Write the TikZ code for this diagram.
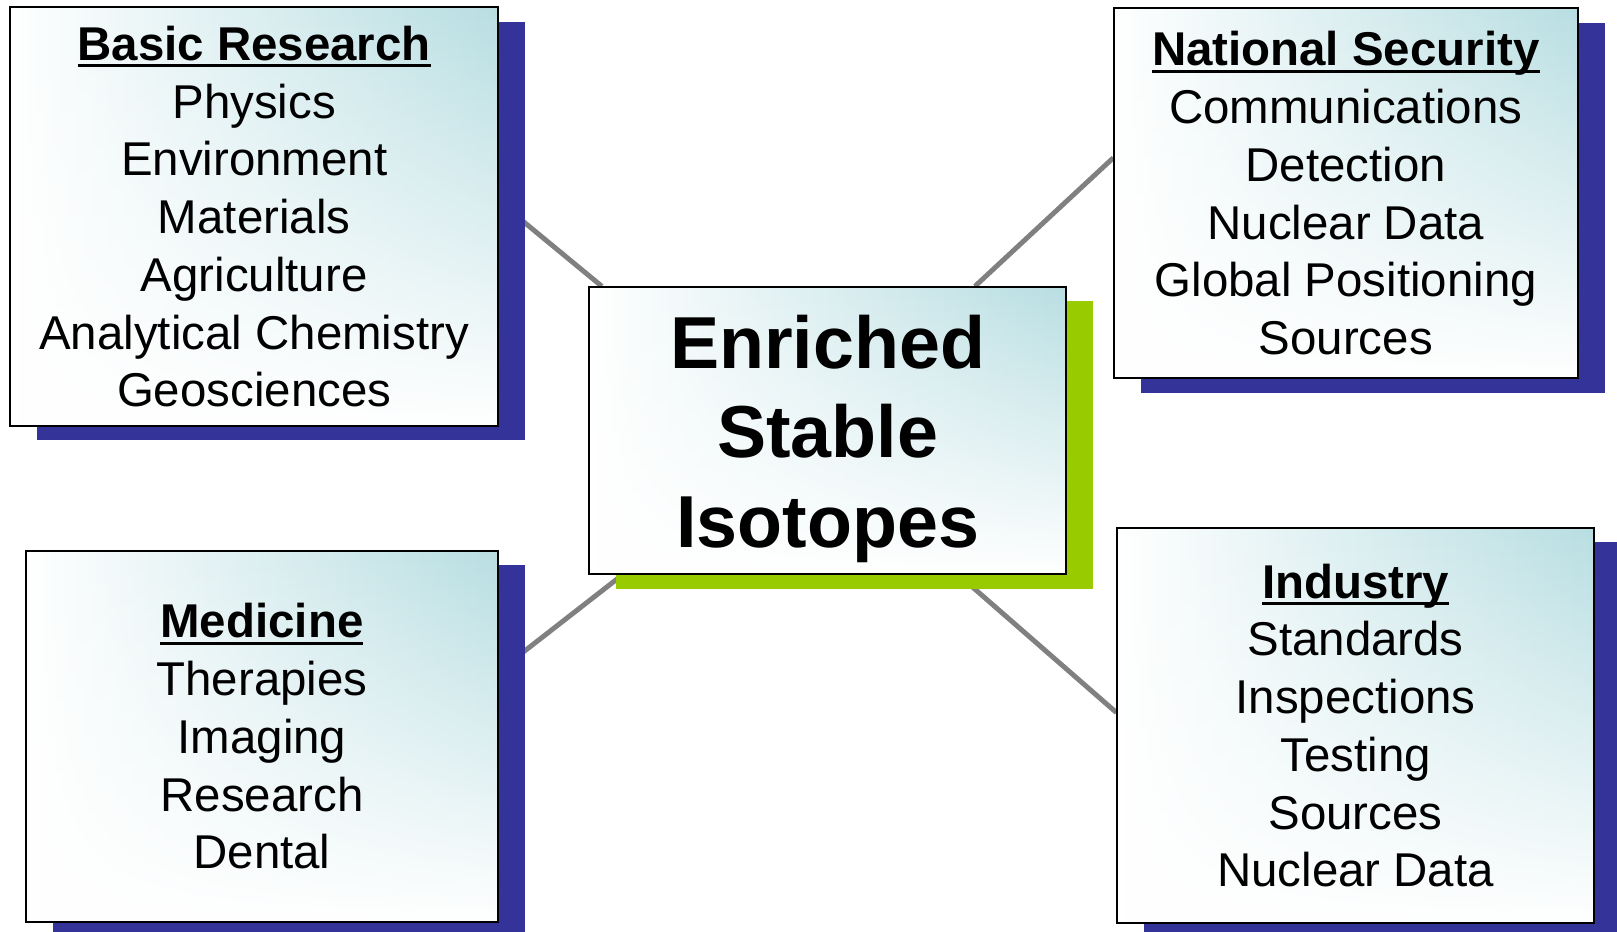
\documentclass[tikz,border=0pt]{standalone}
\usepackage{fontspec}
\setmainfont{Liberation Sans}
\usetikzlibrary{shadows,backgrounds,fadings}

\definecolor{isoteal}{RGB}{184,222,226}
\definecolor{isoblue}{RGB}{51,51,153}
\definecolor{isogreen}{RGB}{153,204,0}
\definecolor{linkgray}{RGB}{128,128,128}
\tikzfading[name=isofade, top color=transparent!100, middle color=transparent!75, bottom color=transparent!0]
\newsavebox{\headbox}
\newcommand{\ulhead}[1]{\sbox{\headbox}{\bfseries #1}\rlap{\usebox{\headbox}}\rule[-3.4pt]{\wd\headbox}{1.5pt}}

\begin{document}
\begin{tikzpicture}[x=0.5pt, y=-0.5pt, 
   box/.style={inner sep=0pt, align=center, left color=white, right color=isoteal, middle color=isoteal!50!white,
     postaction={fill=white, path fading=isofade}, postaction={draw=black, line width=1pt}},
   field/.style={box, font=\fontsize{23}{28}\selectfont, drop shadow={shadow xshift=13pt, shadow yshift=-7pt, fill=isoblue, opacity=1}},
   core/.style={box, font=\fontsize{35.7}{43.5}\selectfont\bfseries, drop shadow={shadow xshift=13pt, shadow yshift=-7pt, fill=isogreen, opacity=1}},
   link/.style={draw=linkgray, line width=2.4pt}]
   \useasboundingbox (0,0) rectangle (1568,903);
   \node[field, minimum width=236.5pt, minimum height=203pt]   (basic)  at (246.5,210)   {\ulhead{Basic Research}\\Physics\\Environment\\Materials\\Agriculture\\Analytical Chemistry\\Geosciences};
   \node[field, minimum width=225pt, minimum height=179.5pt]   (natsec) at (1305,187.5)  {\ulhead{National Security}\\Communications\\Detection\\Nuclear Data\\Global Positioning\\Sources};
   \node[core, minimum width=231.5pt, minimum height=139.5pt]  (esi)    at (802.5,417.5) {\rule{0pt}{34pt}Enriched\\Stable\\Isotopes};
   \node[field, minimum width=229pt, minimum height=180pt]     (med)    at (254,714)     {\ulhead{Medicine}\\Therapies\\Imaging\\Research\\Dental};
   \node[field, minimum width=231.5pt, minimum height=191.5pt] (ind)    at (1314.5,703.5) {\ulhead{Industry}\\Standards\\Inspections\\Testing\\Sources\\Nuclear Data};
   \begin{scope}[on background layer]
   \draw[link] ([shift={(0,-15)}]basic.east)   -- ([shift={(13,0)}]esi.north west);
   \draw[link] ([shift={(0,-34.5)}]natsec.west) -- ([shift={(-89,0)}]esi.north east);
   \draw[link] ([shift={(0,-63)}]med.east)     -- ([shift={(33,0)}]esi.south west);
   \draw[link] ([shift={(0,-12.5)}]ind.west)   -- ([shift={(-105,0)}]esi.south east);
   \end{scope}
\end{tikzpicture}
\end{document}
